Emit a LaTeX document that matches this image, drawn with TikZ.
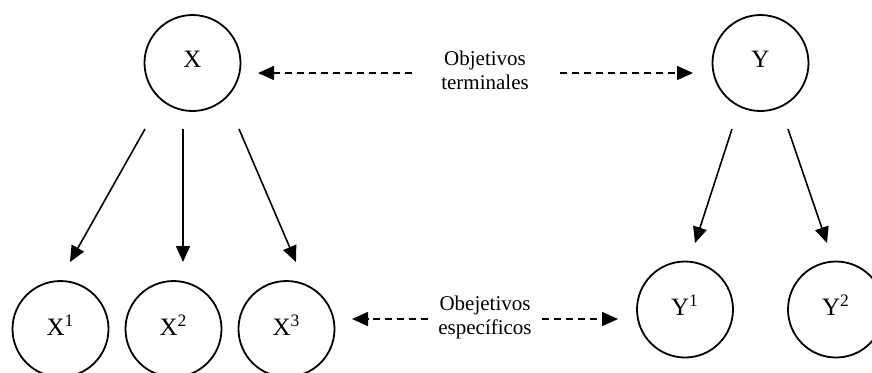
\documentclass[tikz,border=0pt]{standalone}
\usepackage{fontspec}
\setmainfont{Liberation Serif}
\usetikzlibrary{arrows.meta}
\newcommand\lift[1]{\raisebox{4pt}{#1}}
\begin{document}
\begin{tikzpicture}[x=0.5pt,y=-0.5pt,
  obj/.style={circle,draw,line width=0.9pt,minimum size=48pt,inner sep=0pt,font=\fontsize{12.5}{14}\selectfont},
  lbl/.style={align=center,font=\fontsize{10.5}{12}\selectfont},
  tip/.style={-{Triangle[length=8pt,width=7pt]}},
  link/.style={tip,line width=0.8pt},
  dlink/.style={tip,line width=0.8pt,dash pattern=on 3.5pt off 2.5pt}]
\clip (0,0) rectangle (872,372);
\useasboundingbox (0,0) rectangle (872,372);
\fill[white] (0,0) rectangle (872,372);

% main objectives
\node[obj] (X) at (192.5,63) {\lift{X}};
\node[obj] (Y) at (760.5,63) {\lift{Y}};
% sub-objectives
\node[obj] (X1) at (60.5,329) {\lift{X\textsuperscript{1}}};
\node[obj] (X2) at (173.5,329) {\lift{X\textsuperscript{2}}};
\node[obj] (X3) at (286.5,329) {\lift{X\textsuperscript{3}}};
\node[obj] (Y1) at (685,309.5) {\lift{Y\textsuperscript{1}}};
\node[obj] (Y2) at (836,309.5) {\lift{Y\textsuperscript{2}}};

% captions
\node[lbl] (T) at (485,70) {Objetivos\\terminales};
\node[lbl] (E) at (485,317) {Obejetivos\\específicos};

% arrow ends
\coordinate (tL0) at (412,73);   \coordinate (tL1) at (258,73);
\coordinate (tR0) at (560,73);   \coordinate (tR1) at (693,73);
\coordinate (bL0) at (428,319);  \coordinate (bL1) at (352,319);
\coordinate (bR0) at (542,319);  \coordinate (bR1) at (618,319);

\coordinate (x1a) at (145,129);  \coordinate (x1b) at (70,262);
\coordinate (x2a) at (183,129);  \coordinate (x2b) at (183,262);
\coordinate (x3a) at (239,129);  \coordinate (x3b) at (296,262);
\coordinate (y1a) at (732,129);  \coordinate (y1b) at (695,243);
\coordinate (y2a) at (788,129);  \coordinate (y2b) at (827,243);

% dashed links
\draw[dlink] (tL0) -- (tL1);
\draw[dlink] (tR0) -- (tR1);
\draw[dlink] (bL0) -- (bL1);
\draw[dlink] (bR0) -- (bR1);

% decomposition arrows
\draw[link] (x1a) -- (x1b);
\draw[link] (x2a) -- (x2b);
\draw[link] (x3a) -- (x3b);
\draw[link] (y1a) -- (y1b);
\draw[link] (y2a) -- (y2b);
\end{tikzpicture}
\end{document}
